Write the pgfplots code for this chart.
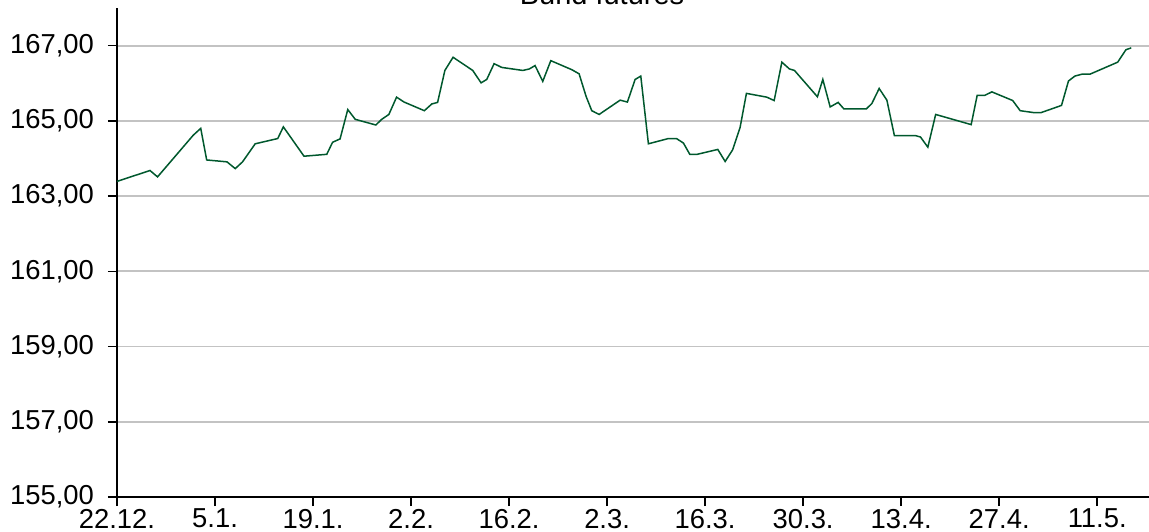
\documentclass[border=0pt]{standalone}
\usepackage{fontspec}
\setmainfont{Liberation Sans}
\usepackage{pgfplots}
\pgfplotsset{compat=1.18}
\definecolor{bundgreen}{RGB}{0,88,45}
\definecolor{gridgray}{RGB}{195,195,195}
\begin{document}
\begin{tikzpicture}
\begin{axis}[
  at={(0,0)}, anchor=south west,
  scale only axis,
  width=516pt, height=244.5pt,
  xmin=0, xmax=147.4,
  ymin=155, ymax=168,
  axis x line=bottom, axis y line=left,
  axis line style={-, black, line width=0.8pt},
  tick align=outside,
  major tick length=4.5pt,
  tick style={black, line width=0.8pt},
  xtick={0,14,28,42,56,70,84,98,112,126,140},
  xticklabels={22.12.,5.1.,19.1.,2.2.,16.2.,2.3.,16.3.,30.3.,13.4.,27.4.,11.5.},
  ytick={155,157,159,161,163,165,167},
  ymajorgrids=true,
  major grid style={gridgray, line width=0.9pt},
  /pgf/number format/assume math mode=true,
  yticklabel={\pgfmathprintnumber[fixed,fixed zerofill,precision=2,use comma,1000 sep={}]{\tick}},
  ticklabel style={font=\fontsize{13.7}{16}\selectfont},
  yticklabel style={xshift=-3.5pt},
  xticklabel style={yshift=2pt},
  clip=false,
]
\addplot[bundgreen, line width=0.75pt] coordinates {
(0,163.39) (4.71,163.68) (5.79,163.51) (10.9,164.62) (11.96,164.80) (12.81,163.96)
(15.71,163.91) (16.89,163.73) (17.93,163.91) (19.74,164.39) (22.96,164.53) (23.76,164.84)
(26.71,164.06) (29.96,164.11) (30.79,164.43) (31.86,164.52) (32.96,165.30) (34.03,165.04)
(36.97,164.89) (37.81,165.04) (38.83,165.17) (39.93,165.63) (41.0,165.50) (43.9,165.27)
(44.97,165.45) (45.79,165.49) (46.83,166.34) (48.0,166.69) (50.81,166.34) (52.0,166.01)
(52.81,166.10) (53.86,166.52) (54.96,166.42) (57.96,166.34) (58.9,166.38) (59.71,166.47)
(60.81,166.05) (61.96,166.60) (64.96,166.36) (66.0,166.25) (67.0,165.65) (67.81,165.27)
(68.86,165.17) (71.86,165.55) (72.9,165.50) (74.0,166.10) (74.81,166.19) (75.9,164.39)
(78.76,164.53) (79.9,164.53) (80.9,164.41) (81.81,164.11) (82.86,164.11) (85.81,164.24)
(86.86,163.92) (87.93,164.23) (89.0,164.83) (89.9,165.73) (92.81,165.63) (93.86,165.54)
(94.96,166.56) (96.04,166.38) (96.76,166.34) (100.04,165.64) (100.81,166.10) (101.86,165.37)
(103.0,165.49) (103.81,165.32) (107.04,165.32) (107.81,165.46) (108.86,165.86) (109.96,165.55)
(111.03,164.61) (114.0,164.61) (114.76,164.57) (115.81,164.30) (116.93,165.17) (122.0,164.90)
(122.86,165.68) (123.96,165.68) (124.96,165.77) (127.93,165.54) (129.0,165.27) (130.9,165.22)
(132.0,165.22) (134.9,165.41) (135.9,166.06) (136.81,166.19) (137.81,166.24) (138.96,166.24)
(142.93,166.56) (144.1,166.89) (144.86,166.94)
};
\end{axis}
\node[anchor=base, font=\fontsize{14.5}{17}\selectfont] at (242.5pt,246pt) {Bund futures};
\pgfresetboundingbox
\path[use as bounding box] (-58.5pt,-17pt) rectangle (516pt,248.5pt);
\end{tikzpicture}
\end{document}
